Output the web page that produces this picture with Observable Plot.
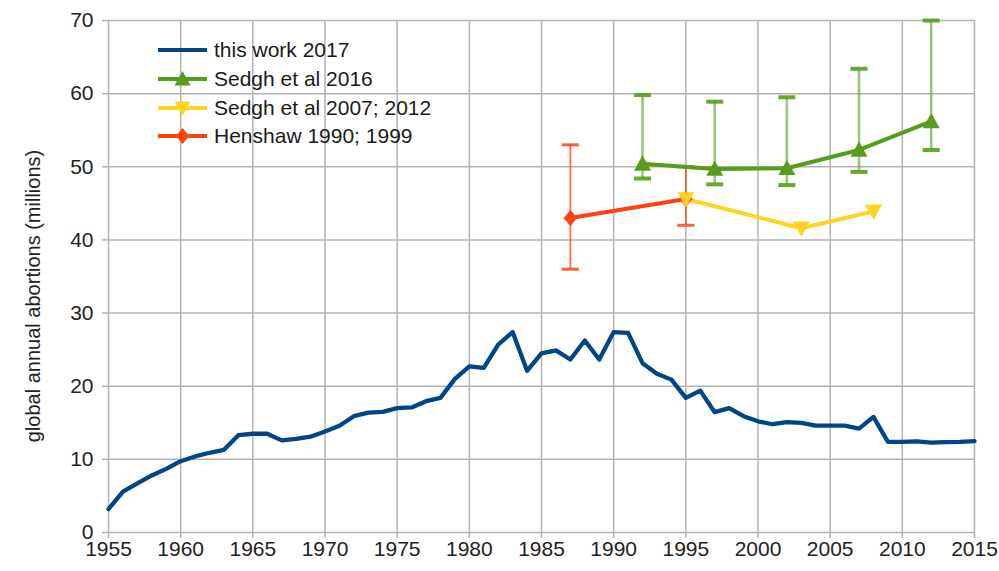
<!DOCTYPE html>
<html>
<head>
<meta charset="utf-8">
<script src="https://cdn.jsdelivr.net/npm/d3@7"></script>
<script src="https://cdn.jsdelivr.net/npm/@observablehq/plot@0.6"></script>
<style>
  body { margin: 0; background: #fff; font-family: "Liberation Sans", Arial, sans-serif; }
  #wrap { position: relative; width: 999px; height: 571px; overflow: hidden; }
  #wrap svg { display: block; }
  #ytitle { position: absolute; left: 33px; top: 296px; transform: translate(-50%, -50%) rotate(-90deg);
            white-space: nowrap; font-size: 20px; color: #222; }
  #legend { position: absolute; left: 156px; top: 36px; font-size: 21px; color: #1a1a1a; }
  .row { display: flex; align-items: center; height: 28.7px; }
  .row svg { margin-right: 5px; }
</style>
</head>
<body>
<div id="wrap"></div>
<script>
// ---- data ----
const years = [1955,1956,1957,1958,1959,1960,1961,1962,1963,1964,1965,1966,1967,1968,1969,
  1970,1971,1972,1973,1974,1975,1976,1977,1978,1979,1980,1981,1982,1983,1984,1985,1986,1987,
  1988,1989,1990,1991,1992,1993,1994,1995,1996,1997,1998,1999,2000,2001,2002,2003,2004,2005,
  2006,2007,2008,2009,2010,2011,2012,2013,2014,2015];
const thisWork = [3.2,5.6,6.7,7.8,8.7,9.75,10.4,10.9,11.3,13.3,13.5,13.5,12.6,12.8,13.1,
  13.8,14.6,15.9,16.4,16.5,17.0,17.1,17.95,18.4,21.0,22.7,22.5,25.7,27.4,22.1,24.5,24.9,23.65,
  26.25,23.65,27.4,27.3,23.15,21.7,20.9,18.4,19.4,16.45,17.0,15.9,15.2,14.8,15.1,15.0,14.6,14.6,
  14.6,14.2,15.8,12.4,12.4,12.45,12.3,12.35,12.4,12.5];

const sedgh2016Years = [1992,1997,2002,2007,2012];
const sedgh2016 = [50.4,49.7,49.8,52.3,56.2];
const sedgh2016Low = [48.4,47.6,47.5,49.3,52.3];
const sedgh2016High = [59.8,58.9,59.5,63.4,70.0];

const sedgh2007Years = [1995,2003,2008];
const sedgh2007 = [45.6,41.6,43.9];

const henshawYears = [1987,1995];
const henshaw = [43.0,45.6];
const henshawLow = [36.0,42.0];
const henshawHigh = [53.0,50.0];

const seriesNames = ["this work 2017","Sedgh et al 2016","Sedgh et al 2007; 2012","Henshaw 1990; 1999"];
const seriesColors = ["#004586","#579d1c","#ffd320","#ff420e"];
const xTicks = [1955,1960,1965,1970,1975,1980,1985,1990,1995,2000,2005,2010,2015];
const yTicks = [0,10,20,30,40,50,60,70];
const yTitle = "global annual abortions (millions)";

// ---- tables ----
const blue = years.map((y, i) => ({year: y, v: thisWork[i]}));
const green = sedgh2016Years.map((y, i) => ({year: y, v: sedgh2016[i], lo: sedgh2016Low[i], hi: sedgh2016High[i]}));
const yellow = sedgh2007Years.map((y, i) => ({year: y, v: sedgh2007[i]}));
const red = henshawYears.map((y, i) => ({year: y, v: henshaw[i], lo: henshawLow[i], hi: henshawHigh[i]}));

// ---- custom symbols ----
const rad = s => Math.sqrt(s / Math.PI);
const triUp = {draw(c, s) { const r = rad(s); c.moveTo(0, -r); c.lineTo(r, 0.8 * r); c.lineTo(-r, 0.8 * r); c.closePath(); }};
const triDown = {draw(c, s) { const r = rad(s); c.moveTo(0, r); c.lineTo(r, -0.8 * r); c.lineTo(-r, -0.8 * r); c.closePath(); }};
const diamond = {draw(c, s) { const r = rad(s); c.moveTo(0, -r); c.lineTo(0.85 * r, 0); c.lineTo(0, r); c.lineTo(-0.85 * r, 0); c.closePath(); }};
const cap = {draw(c, s) { const r = rad(s); c.moveTo(-r, 0); c.lineTo(r, 0); }};

const grid = "#b3b3b3";
const chart = Plot.plot({
  width: 999, height: 571,
  marginLeft: 108, marginRight: 25, marginTop: 20, marginBottom: 39,
  x: {domain: [1955, 2015]},
  y: {domain: [0, 70]},
  style: {fontFamily: "'Liberation Sans', Arial, sans-serif", fontSize: "21px", background: "#fff", color: "#222"},
  marks: [
    Plot.gridX(xTicks, {stroke: grid, strokeOpacity: 1, strokeWidth: 1.5}),
    Plot.gridY(yTicks, {stroke: grid, strokeOpacity: 1, strokeWidth: 1.5}),
    Plot.axisX(xTicks, {tickSize: 6, tickPadding: 3, stroke: grid, strokeWidth: 1.5, fill: "#222", fontSize: 21, tickFormat: d => String(d), label: null}),
    Plot.axisY(yTicks, {tickSize: 6, tickPadding: 9, stroke: grid, strokeWidth: 1.5, fill: "#222", fontSize: 21, label: null}),
    Plot.line(blue, {x: "year", y: "v", stroke: seriesColors[0], strokeWidth: 4.3, strokeLinejoin: "round"}),
    // error bars
    Plot.ruleX(green, {x: "year", y1: "lo", y2: "hi", stroke: seriesColors[1], strokeOpacity: 0.6, strokeWidth: 2.5}),
    Plot.dot(green, {x: "year", y: "lo", symbol: cap, r: 8.5, stroke: seriesColors[1], strokeOpacity: 0.9, strokeWidth: 4, fill: "none"}),
    Plot.dot(green, {x: "year", y: "hi", symbol: cap, r: 8.5, stroke: seriesColors[1], strokeOpacity: 0.9, strokeWidth: 4, fill: "none"}),
    Plot.ruleX(red, {x: "year", y1: "lo", y2: "hi", stroke: seriesColors[3], strokeOpacity: 0.75, strokeWidth: 1.8}),
    Plot.dot(red, {x: "year", y: "lo", symbol: cap, r: 8.5, stroke: seriesColors[3], strokeOpacity: 0.85, strokeWidth: 3, fill: "none"}),
    Plot.dot(red, {x: "year", y: "hi", symbol: cap, r: 8.5, stroke: seriesColors[3], strokeOpacity: 0.85, strokeWidth: 3, fill: "none"}),
    // series lines
    Plot.line(red, {x: "year", y: "v", stroke: seriesColors[3], strokeWidth: 4}),
    Plot.line(yellow, {x: "year", y: "v", stroke: seriesColors[2], strokeWidth: 4}),
    Plot.line(green, {x: "year", y: "v", stroke: seriesColors[1], strokeWidth: 4}),
    // markers
    Plot.dot(red, {x: "year", y: "v", symbol: diamond, r: 8, fill: seriesColors[3], stroke: "none"}),
    Plot.dot(yellow, {x: "year", y: "v", symbol: triDown, r: 8.5, fill: seriesColors[2], stroke: "none"}),
    Plot.dot(green, {x: "year", y: "v", symbol: triUp, r: 8.5, fill: seriesColors[1], stroke: "none"})
  ]
});

const wrap = document.getElementById("wrap");
wrap.appendChild(chart);

// y title
const yt = document.createElement("div");
yt.id = "ytitle";
yt.textContent = yTitle;
wrap.appendChild(yt);

// legend
const markerPaths = [
  null,
  "M0,-8L8,6.4L-8,6.4Z",
  "M0,8L8,-6.4L-8,-6.4Z",
  "M0,-8L6.8,0L0,8L-6.8,0Z"
];
const legend = document.createElement("div");
legend.id = "legend";
seriesNames.forEach((name, i) => {
  const row = document.createElement("div");
  row.className = "row";
  const ns = "http://www.w3.org/2000/svg";
  const s = document.createElementNS(ns, "svg");
  s.setAttribute("width", 53); s.setAttribute("height", 20);
  const ln = document.createElementNS(ns, "line");
  ln.setAttribute("x1", 2); ln.setAttribute("x2", 51); ln.setAttribute("y1", 10); ln.setAttribute("y2", 10);
  ln.setAttribute("stroke", seriesColors[i]); ln.setAttribute("stroke-width", 4);
  s.appendChild(ln);
  if (markerPaths[i]) {
    const p = document.createElementNS(ns, "path");
    p.setAttribute("d", markerPaths[i]);
    p.setAttribute("transform", "translate(26.5,10)");
    p.setAttribute("fill", seriesColors[i]);
    s.appendChild(p);
  }
  row.appendChild(s);
  const t = document.createElement("span");
  t.textContent = name;
  row.appendChild(t);
  legend.appendChild(row);
});
wrap.appendChild(legend);
</script>
</body>
</html>
